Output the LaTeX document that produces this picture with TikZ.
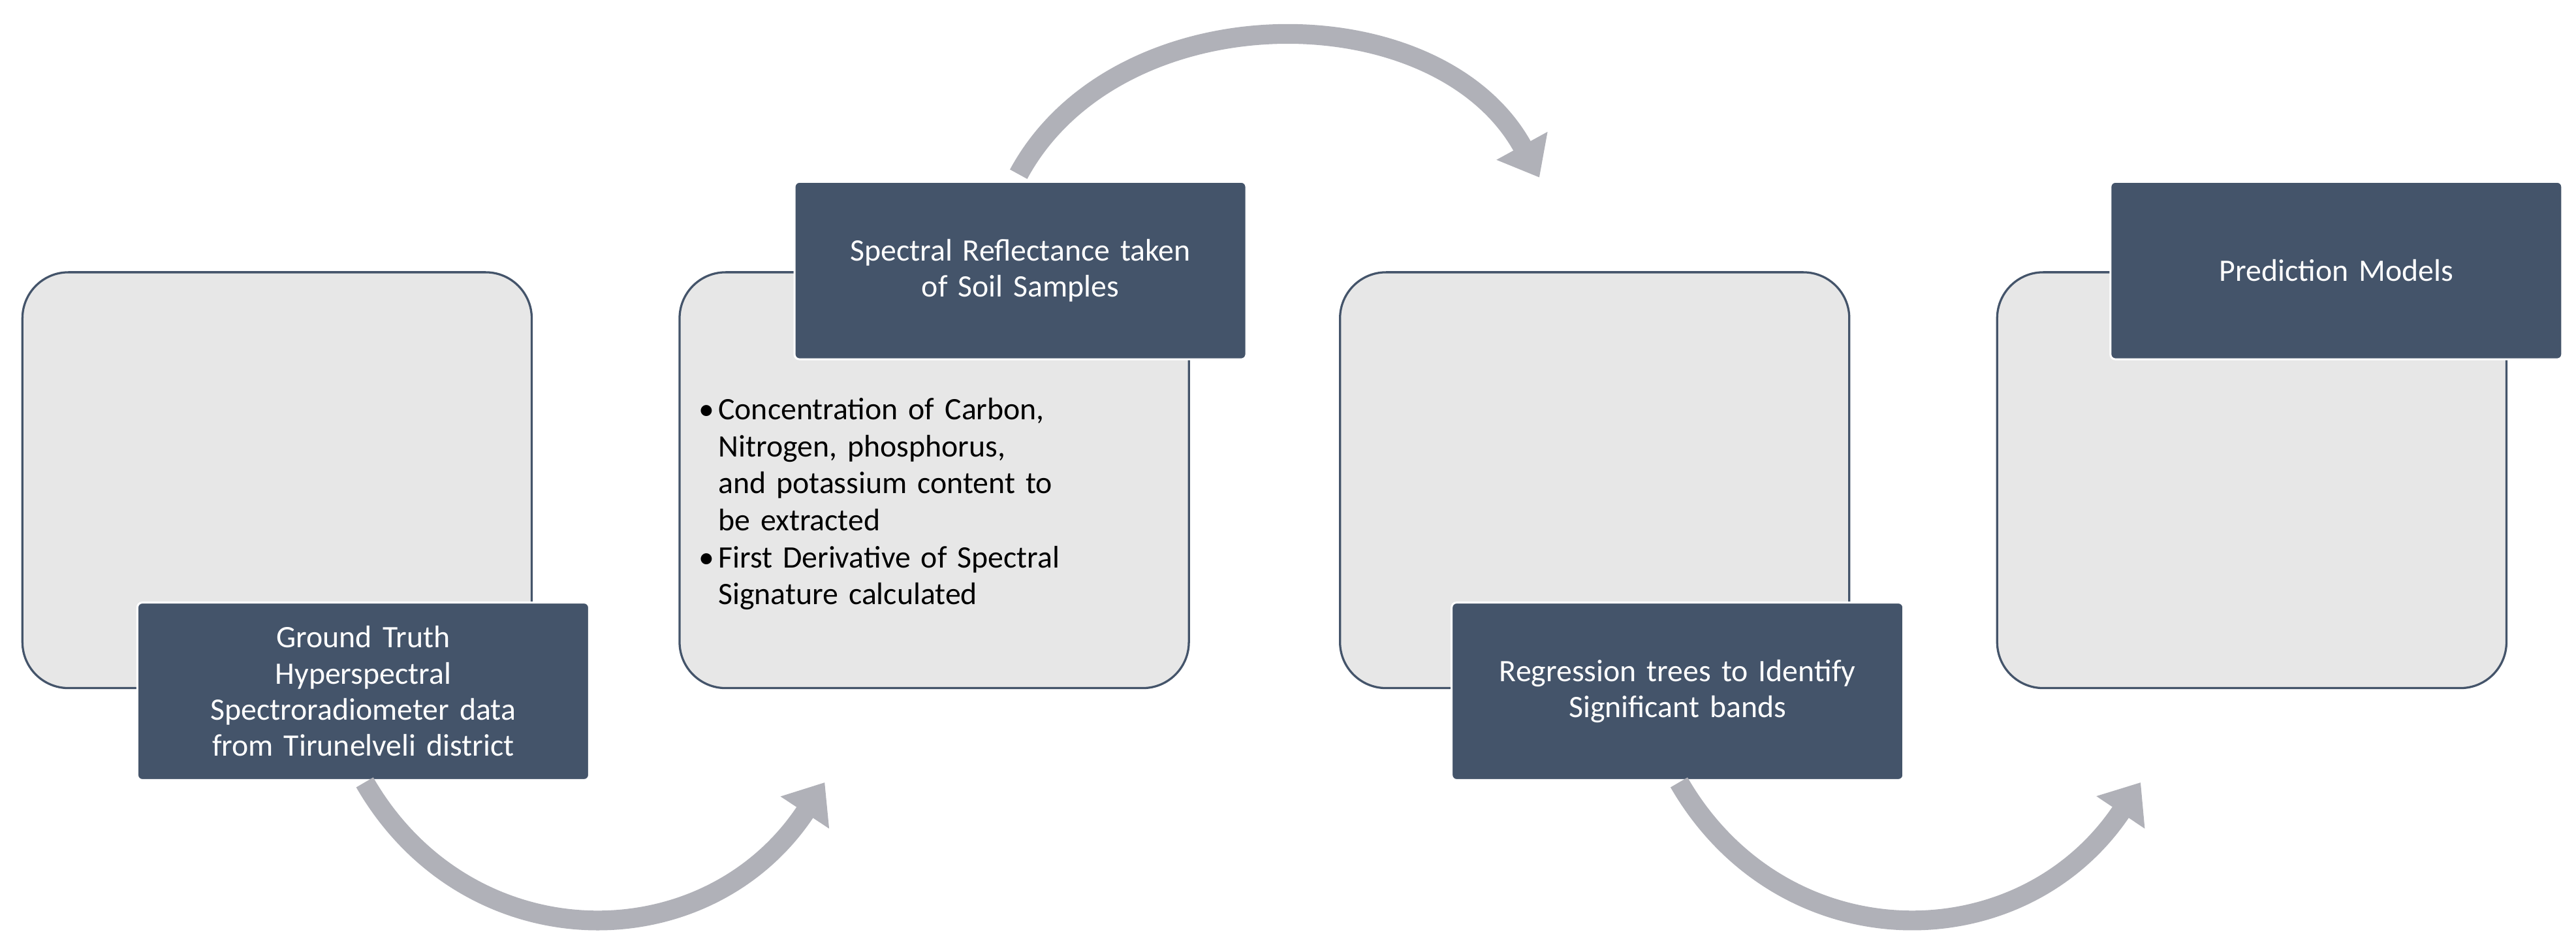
\documentclass[tikz,border=0pt]{standalone}
\usepackage{fontspec}
\setmainfont{Carlito}
\usetikzlibrary{arrows.meta}
\definecolor{dk}{HTML}{44546A}
\definecolor{lt}{HTML}{E7E7E7}
\definecolor{ar}{HTML}{B0B1B8}
\begin{document}
\begin{tikzpicture}[x=1pt,y=-1pt,
 lbox/.style={draw=dk,line width=1.3pt,fill=lt,rounded corners=28pt,minimum width=310pt,minimum height=253pt,anchor=north west,inner sep=0},
 dbox/.style={draw=white,line width=1.2pt,fill=dk,rounded corners=3pt,minimum width=275pt,minimum height=108pt,anchor=north west,inner sep=4pt,text=white,font=\fontsize{19}{22}\selectfont,align=center,text width=265pt},
 arr/.style={ar,line width=12pt,-{Triangle[length=22pt,width=34pt]}}]
\useasboundingbox (0,0) rectangle (1568,576);
\node[lbox] (b1) at (13,165) {};
\node[lbox] (b2) at (413,165) {};
\node[lbox] (b3) at (815,165) {};
\node[lbox] (b4) at (1215,165) {};
\node[dbox] (d1) at (83,366) {Ground Truth\\Hyperspectral\\Spectroradiometer data\\from Tirunelveli district};
\node[dbox] (d2) at (483,110) {Spectral Reflectance taken\\of Soil Samples};
\node[dbox] (d3) at (883,366) {Regression trees to Identify\\Significant bands};
\node[dbox] (d4) at (1284,110) {Prediction Models};
\node[anchor=north west,text width=290pt,font=\fontsize{19}{22.5}\selectfont,align=left,inner sep=0] (t2) at (425,242) {%
\makebox[12pt][l]{•}Concentration of Carbon,\\
\hspace*{12pt}Nitrogen, phosphorus,\\
\hspace*{12pt}and potassium content to\\
\hspace*{12pt}be extracted\\
\makebox[12pt][l]{•}First Derivative of Spectral\\
\hspace*{12pt}Signature calculated};
\coordinate (a1s) at (222,476); \coordinate (a1e) at (502,476);
\coordinate (a2s) at (620,106); \coordinate (a2e) at (937,108);
\coordinate (a3s) at (1022,476); \coordinate (a3e) at (1303,476);
\draw[arr] (a1s) .. controls (285,585) and (430,585) .. (a1e);
\draw[arr] (a2s) .. controls (680,-5) and (875,-5) .. (a2e);
\draw[arr] (a3s) .. controls (1085,585) and (1230,585) .. (a3e);
\end{tikzpicture}
\end{document}
